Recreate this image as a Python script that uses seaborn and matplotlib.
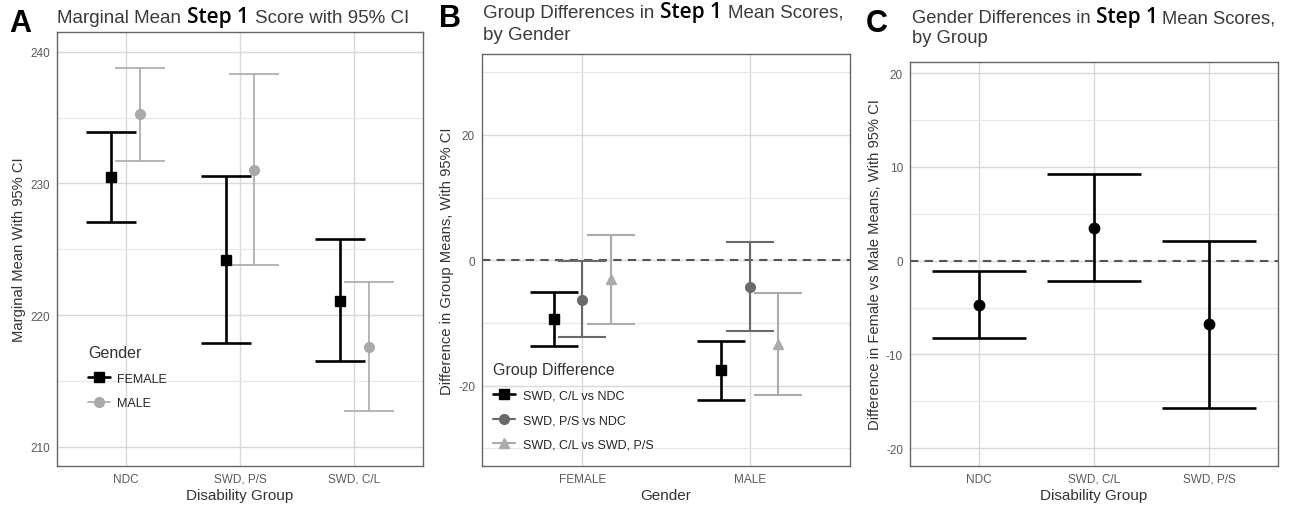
import numpy as np
import pandas as pd
import matplotlib
matplotlib.use("Agg")
import matplotlib.pyplot as plt
import seaborn as sns
from matplotlib.lines import Line2D
from matplotlib.ticker import MultipleLocator

# Panel A: marginal means by disability group and gender
A_GROUPS = ["NDC", "SWD, P/S", "SWD, C/L"]
A_GENDERS = ["FEMALE", "MALE"]
A_FEMALE_MEAN = [230.5, 224.2, 221.1]
A_FEMALE_LO = [227.1, 217.9, 216.5]
A_FEMALE_HI = [233.9, 230.6, 225.8]
A_MALE_MEAN = [235.3, 231.0, 217.6]
A_MALE_LO = [231.7, 223.8, 212.7]
A_MALE_HI = [238.8, 238.3, 222.5]

# Panel B: group differences by gender
B_GENDERS = ["FEMALE", "MALE"]
B_CONTRASTS = ["SWD, C/L vs NDC", "SWD, P/S vs NDC", "SWD, C/L vs SWD, P/S"]
B_CL_NDC_MEAN = [-9.3, -17.5]
B_CL_NDC_LO = [-13.7, -22.2]
B_CL_NDC_HI = [-5.0, -12.8]
B_PS_NDC_MEAN = [-6.3, -4.2]
B_PS_NDC_LO = [-12.3, -11.2]
B_PS_NDC_HI = [-0.1, 2.9]
B_CL_PS_MEAN = [-3.0, -13.3]
B_CL_PS_LO = [-10.1, -21.4]
B_CL_PS_HI = [4.1, -5.2]

# Panel C: gender differences by group
C_GROUPS = ["NDC", "SWD, C/L", "SWD, P/S"]
C_DIFF_MEAN = [-4.7, 3.5, -6.8]
C_DIFF_LO = [-8.2, -2.2, -15.7]
C_DIFF_HI = [-1.1, 9.3, 2.1]

sns.set_style("white")
plt.rcParams["font.family"] = ["Liberation Sans", "DejaVu Sans"]
plt.rcParams["axes.unicode_minus"] = False

TEXT = "#333333"
TICK = "#555555"


def style_axes(ax, cats, minor_step):
    ax.set_xticks(range(len(cats)))
    ax.set_xticklabels(cats)
    ax.set_xlim(-0.6, len(cats) - 0.4)
    ax.yaxis.set_minor_locator(MultipleLocator(minor_step))
    ax.grid(True, which="major", color="#d8d8d8", lw=1.0, zorder=0)
    ax.grid(True, which="minor", axis="y", color="#e6e6e6", lw=0.8, zorder=0)
    ax.tick_params(axis="both", which="major", length=3, width=0.8, color=TICK,
                   labelsize=8.5, labelcolor="#5a5a5a", pad=2)
    ax.tick_params(axis="y", which="minor", length=0)
    for s in ax.spines.values():
        s.set_color("#666666")
        s.set_linewidth(1.0)
    ax.set_axisbelow(True)


def draw_ci(ax, x, mean, lo, hi, color, marker, lw, ms, capsize):
    err = [np.subtract(mean, lo), np.subtract(hi, mean)]
    ax.errorbar(x, mean, yerr=err, fmt=marker, color=color, ecolor=color,
                elinewidth=lw, capsize=capsize, capthick=lw, markersize=ms, zorder=3)


def mixed_title(fig, x_px, y_px, parts, gap_px=6):
    renderer = fig.canvas.get_renderer()
    W, H = fig.bbox.width, fig.bbox.height
    x = x_px
    for txt, kw in parts:
        t = fig.text(x / W, 1 - y_px / H, txt, va="baseline", ha="left", **kw)
        x = t.get_window_extent(renderer).x1 + gap_px


fig = plt.figure(figsize=(12.96, 5.10), dpi=100)
W, H = 1296, 510


def add_ax(left, top, right, bottom):
    return fig.add_axes([left / W, 1 - bottom / H, (right - left) / W, (bottom - top) / H])


axA = add_ax(57, 33, 423, 467)
axB = add_ax(482, 55, 850, 467)
axC = add_ax(910, 63, 1278, 467)

# ---- Panel A
xa = np.arange(len(A_GROUPS))
style_axes(axA, A_GROUPS, 5)
axA.set_ylim(208.55, 241.5)
axA.set_yticks([210, 220, 230, 240])
draw_ci(axA, xa - 0.125, A_FEMALE_MEAN, A_FEMALE_LO, A_FEMALE_HI, "black", "s", 1.9, 7, 18)
draw_ci(axA, xa + 0.125, A_MALE_MEAN, A_MALE_LO, A_MALE_HI, "#a9a9a9", "o", 1.2, 7, 18)
axA.set_xlabel("Disability Group", fontsize=11, color=TEXT, labelpad=2)
axA.set_ylabel("Marginal Mean With 95% CI", fontsize=10.6, color=TEXT, labelpad=3)
hA = [Line2D([], [], color="black", lw=1.9, marker="s", ms=7),
      Line2D([], [], color="#a9a9a9", lw=1.2, marker="o", ms=7)]
legA = axA.legend(hA, A_GENDERS, title="Gender", loc="lower left",
                  bbox_to_anchor=(0.055, 0.105), frameon=False, fontsize=9,
                  title_fontsize=11.5, handlelength=1.7, handletextpad=0.6,
                  labelspacing=1.0, alignment="left")
legA.get_title().set_color(TEXT)

# ---- Panel B
xb = np.arange(len(B_GENDERS))
style_axes(axB, B_GENDERS, 10)
axB.set_ylim(-32.8, 32.9)
axB.set_yticks([-20, 0, 20])
axB.axhline(0, color="#555555", lw=1.5, ls=(0, (4, 3)), zorder=2)
b_series = [
    (B_CL_NDC_MEAN, B_CL_NDC_LO, B_CL_NDC_HI, "black", "s", 1.9, -0.17),
    (B_PS_NDC_MEAN, B_PS_NDC_LO, B_PS_NDC_HI, "#6a6a6a", "o", 1.5, 0.0),
    (B_CL_PS_MEAN, B_CL_PS_LO, B_CL_PS_HI, "#ababab", "^", 1.5, 0.17),
]
hB = []
for mean, lo, hi, col, mk, lw, off in b_series:
    draw_ci(axB, xb + off, mean, lo, hi, col, mk, lw, 7, 17.5)
    hB.append(Line2D([], [], color=col, lw=lw, marker=mk, ms=7))
axB.set_xlabel("Gender", fontsize=11, color=TEXT, labelpad=2)
axB.set_ylabel("Difference in Group Means, With 95% CI", fontsize=10.6, color=TEXT, labelpad=3)
legB = axB.legend(hB, B_CONTRASTS, title="Group Difference", loc="lower left",
                  bbox_to_anchor=(0.0, 0.01), frameon=False, fontsize=9,
                  title_fontsize=11.5, handlelength=1.7, handletextpad=0.7,
                  labelspacing=1.0, alignment="left")
legB.get_title().set_color(TEXT)

# ---- Panel C
xc = np.arange(len(C_GROUPS))
style_axes(axC, C_GROUPS, 5)
axC.set_ylim(-21.9, 21.2)
axC.set_yticks([-20, -10, 0, 10, 20])
axC.axhline(0, color="#555555", lw=1.5, ls=(0, (4, 3)), zorder=2)
draw_ci(axC, xc, C_DIFF_MEAN, C_DIFF_LO, C_DIFF_HI, "black", "o", 1.9, 7.5, 33.5)
axC.set_xlabel("Disability Group", fontsize=11, color=TEXT, labelpad=2)
axC.set_ylabel("Difference in Female vs Male Means, With 95% CI", fontsize=10.6,
               color=TEXT, labelpad=3)

# ---- titles
grey = dict(fontsize=13.5, color="#3a3a3a", family=["Liberation Sans", "DejaVu Sans"])
grey_c = dict(grey, fontsize=13.2)
step = dict(fontsize=15, color="black", family=["Open Sans", "DejaVu Sans"], weight="semibold")
letter = dict(fontsize=22, color="black", weight="bold", family=["Liberation Sans", "DejaVu Sans"])

fig.text(9 / W, 1 - 32 / H, "A", va="baseline", ha="left", **letter)
fig.text(439 / W, 1 - 27 / H, "B", va="baseline", ha="left", **letter)
fig.text(866 / W, 1 - 32 / H, "C", va="baseline", ha="left", **letter)

mixed_title(fig, 57, 23, [("Marginal Mean", grey), ("Step 1", step),
                          ("Score with 95% CI", grey)])
mixed_title(fig, 483, 18, [("Group Differences in", grey), ("Step 1", step),
                           ("Mean Scores,", grey)])
fig.text(483 / W, 1 - 40 / H, "by Gender", va="baseline", ha="left", **grey)
mixed_title(fig, 912, 23, [("Gender Differences in", grey_c), ("Step 1", step),
                           ("Mean Scores,", grey_c)], gap_px=5)
fig.text(912 / W, 1 - 43 / H, "by Group", va="baseline", ha="left", **grey_c)

fig.savefig("out.png", dpi=100)
